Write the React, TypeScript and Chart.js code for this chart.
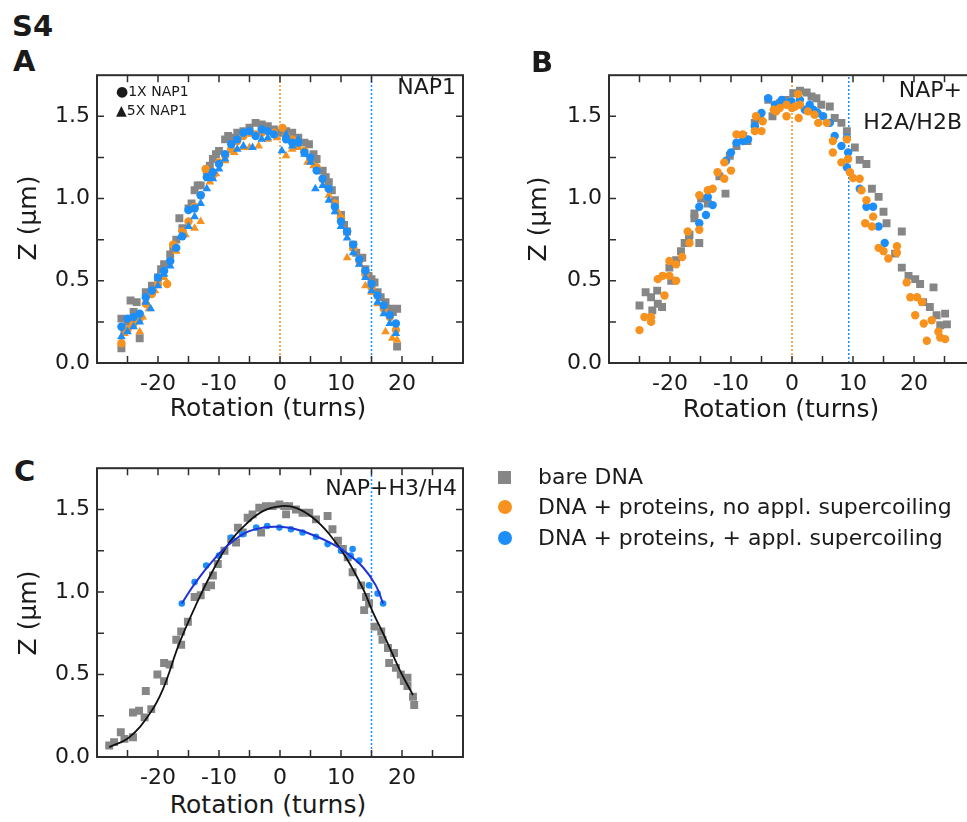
import React, { useEffect, useRef } from "react";
import { Chart, registerables } from "chart.js";

Chart.register(...registerables);

type P = [number, number];

const FONT = "'DejaVu Sans', sans-serif";
const TXT = "#1a1a1a";
const GREY = "#868686";
const ORANGE = "#F7921E";
const BLUE = "#1C8EF9";
const FIT_BLUE = "#1F33D6";
const FIT_BLACK = "#111111";

// ---------- axis ticks ----------
const X_MIN = -30;
const X_MAX = 30;
const X_STEP = 5;
const X_LABELS = [-20, -10, 0, 10, 20];
const Y_MIN = 0;
const Y_MAX = 1.75;
const Y_STEP = 0.25;
const Y_LABELS = [0, 0.5, 1.0, 1.5];

// ---------- Panel A : NAP1 ----------
const A_VLINES_ORANGE = [0];
const A_VLINES_BLUE = [15];
const A_bare: P[] = [
  [-26, 0.09], [-26, 0.27], [-25.5, 0.2], [-25, 0.25], [-24.5, 0.38], [-24, 0.31], [-23.5, 0.37], [-23, 0.15],
  [-22, 0.43], [-21, 0.47], [-20, 0.52], [-19.5, 0.57], [-19, 0.6], [-18, 0.66], [-17.5, 0.7], [-17, 0.75],
  [-16.5, 0.88], [-16, 0.82], [-15, 0.94], [-14.5, 0.97], [-14, 1.05], [-13.5, 1.08], [-13, 1.08], [-12, 1.17],
  [-11.5, 1.2], [-11, 1.24], [-10.5, 1.27], [-10, 1.29], [-9, 1.36], [-8.5, 1.38], [-8, 1.37], [-7, 1.4],
  [-6, 1.41], [-5, 1.43], [-4, 1.46], [-3, 1.45], [-2, 1.44], [-1, 1.42], [0, 1.4], [1, 1.41], [1.5, 1.38],
  [2, 1.4], [3, 1.37], [4, 1.34], [4.75, 1.33], [5.5, 1.27], [6, 1.24], [7, 1.17], [7.5, 1.13], [8, 1.1],
  [8.5, 1.05], [9, 0.99], [10, 0.9], [10.5, 0.84], [11, 0.8], [12, 0.72], [12.5, 0.67], [13.5, 0.64],
  [14, 0.57], [14.5, 0.53], [15, 0.51], [15.5, 0.49], [16, 0.43], [16.5, 0.4], [17.3, 0.37], [18, 0.33],
  [18.5, 0.31], [19.2, 0.33], [19.2, 0.1],
];
const A_orange1x: P[] = [
  [-26, 0.12], [-25, 0.2], [-24, 0.24], [-23, 0.27], [-22, 0.36], [-21, 0.42], [-20, 0.48], [-18.5, 0.48],
  [-18, 0.62], [-17.5, 0.72], [-16, 0.8], [-15, 0.86], [-14, 0.95], [-13, 1.02], [-12.2, 1.18], [-11, 1.14],
  [-10, 1.22], [-9, 1.26], [-8, 1.3], [-7, 1.35], [-6, 1.38], [-5, 1.4], [-4, 1.39], [-3, 1.4], [-2, 1.41],
  [-1, 1.4], [0.4, 1.43], [1, 1.38], [2, 1.36], [3, 1.33], [4, 1.29], [5, 1.25], [6, 1.19], [7, 1.12],
  [8, 1.06], [9, 0.97], [10, 0.88], [11, 0.8], [12, 0.7], [13, 0.62], [14, 0.54], [15, 0.46], [16, 0.41],
  [17, 0.33], [18, 0.28], [19, 0.2],
];
const A_orange5x: P[] = [
  [-25.5, 0.18], [-24.5, 0.22], [-23, 0.19], [-22.5, 0.28], [-21.5, 0.33], [-20.5, 0.44], [-19, 0.52],
  [-17, 0.68], [-15.5, 0.78], [-14, 0.82], [-13, 0.86], [-11.5, 1.1], [-10.5, 1.15], [-9, 1.23], [-7.5, 1.28],
  [-6, 1.31], [-5, 1.31], [-3.5, 1.32], [-2, 1.36], [-0.5, 1.37], [1, 1.26], [2, 1.3], [3, 1.31], [4.5, 1.22],
  [5.5, 1.2], [7, 1.12], [8, 1.02], [9.5, 0.92], [11, 0.64], [12, 0.7], [13, 0.6], [14, 0.47], [15, 0.43],
  [16, 0.36], [17.3, 0.19], [18.4, 0.15], [19.2, 0.14],
];
const A_blue1x: P[] = [
  [-26, 0.22], [-25, 0.27], [-24, 0.28], [-23, 0.3], [-22, 0.4], [-21, 0.44], [-20, 0.52], [-19, 0.56],
  [-18, 0.62], [-17, 0.7], [-16, 0.77], [-15, 0.93], [-14, 0.94], [-13, 1.02], [-12, 1.13], [-11, 1.16],
  [-10, 1.21], [-9, 1.27], [-8, 1.33], [-7, 1.36], [-6, 1.4], [-5, 1.41], [-4, 1.38], [-3, 1.42], [-2, 1.41],
  [-1, 1.39], [1, 1.36], [2, 1.34], [3, 1.34], [4, 1.28], [5, 1.25], [6, 1.17], [7, 1.12], [8, 1.06],
  [9, 0.95], [10, 0.86], [11, 0.8], [12, 0.72], [13, 0.63], [14, 0.56], [15, 0.48], [16, 0.41], [17, 0.35],
  [18, 0.29], [19, 0.24],
];
const A_blue5x: P[] = [
  [-26, 0.16], [-25, 0.19], [-24, 0.22], [-23, 0.25], [-22, 0.37], [-21.2, 0.33], [-20, 0.47], [-19, 0.54],
  [-18, 0.59], [-16.3, 0.77], [-15, 0.83], [-14, 0.89], [-13, 0.97], [-12, 1.06], [-11, 1.12], [-10, 1.18],
  [-9, 1.24], [-7, 1.3], [-6, 1.32], [-4.5, 1.31], [-3, 1.36], [-2, 1.37], [0.3, 1.29], [1, 1.39], [2, 1.32],
  [3, 1.36], [4, 1.27], [5, 1.22], [5.8, 1.06], [7, 1.08], [8, 0.99], [9, 0.92], [10, 0.83], [11, 0.76],
  [12, 0.67], [13, 0.6], [14, 0.52], [15, 0.44], [16, 0.37], [17, 0.3], [18, 0.24], [19, 0.18],
];

// ---------- Panel B : NAP + H2A/H2B ----------
const B_VLINES_ORANGE = [0];
const B_VLINES_BLUE = [9.3];
const B_bare: P[] = [
  [-25, 0.35], [-24, 0.43], [-23.1, 0.4], [-22.9, 0.32], [-22.1, 0.44], [-22, 0.36], [-21.3, 0.34],
  [-20.1, 0.58], [-19.8, 0.5], [-19, 0.625], [-18.2, 0.68], [-17.6, 0.73], [-16.9, 0.77], [-16.8, 0.78],
  [-16, 0.88], [-16, 0.91], [-15.2, 0.73], [-14.9, 1.0], [-13.8, 0.97], [-11.9, 1.135], [-10.9, 1.03],
  [-10.2, 1.26], [-9.1, 1.32], [-8, 1.38], [-7.3, 1.35], [-6.1, 1.46], [-5.3, 1.49], [-3.9, 1.6],
  [-3.2, 1.5], [-2, 1.58], [-1, 1.6], [0.2, 1.64], [1.3, 1.655], [2.4, 1.645], [3.2, 1.62], [4, 1.61],
  [4.8, 1.57], [6.2, 1.56], [7, 1.49], [8.1, 1.46], [9, 1.41], [10.3, 1.31], [11.1, 1.235], [12.2, 1.21],
  [13.1, 1.06], [14.2, 1.01], [15, 0.92], [15.5, 0.85], [16.9, 0.665], [18, 0.8], [18, 0.58], [19.1, 0.53],
  [20.2, 0.51], [21, 0.48], [21.5, 0.37], [22.6, 0.34], [23.2, 0.46], [23.7, 0.29], [24.3, 0.23],
  [25.1, 0.3], [25.4, 0.235],
];
const B_orange: P[] = [
  [-25, 0.2], [-24.2, 0.28], [-23.1, 0.25], [-23.1, 0.28], [-22, 0.51], [-21.2, 0.53], [-20.9, 0.41],
  [-20.1, 0.53], [-20.1, 0.62], [-19, 0.5], [-19, 0.6], [-18, 0.645], [-17.1, 0.8], [-16.8, 0.73],
  [-15.2, 0.81], [-15.2, 1.02], [-13.8, 1.05], [-13, 1.06], [-12.2, 1.16], [-11.1, 1.12], [-11.1, 1.22],
  [-10, 1.17], [-9.1, 1.39], [-8.1, 1.39], [-6.1, 1.41], [-5.9, 1.5], [-5, 1.41], [-4.8, 1.47], [-3, 1.54],
  [-2.6, 1.53], [-2, 1.55], [-0.9, 1.57], [-0.9, 1.5], [0, 1.55], [0.5, 1.56], [1, 1.635], [1.1, 1.49],
  [1.3, 1.57], [2.6, 1.53], [3.7, 1.51], [4.3, 1.46], [5.7, 1.46], [6.7, 1.35], [6.7, 1.28], [8.1, 1.22],
  [9, 1.36], [9.2, 1.24], [9.5, 1.16], [10, 1.125], [11.1, 1.12], [11.4, 1.05], [12.2, 0.99], [12, 0.85],
  [13.1, 0.83], [13.3, 0.89], [14.2, 0.7], [15, 0.68], [15.8, 0.635], [17.2, 0.71], [17.2, 0.67],
  [18.8, 0.49], [19.4, 0.4], [20.5, 0.4], [21.3, 0.37], [20.2, 0.29], [21.6, 0.24], [22.9, 0.26],
  [22.1, 0.135], [24, 0.19], [24.3, 0.155], [25.1, 0.145],
];
const B_blue: P[] = [
  [-15.2, 0.95], [-15.2, 0.85], [-14.1, 0.9], [-13.8, 1.01], [-13, 0.96], [-10.8, 1.23], [-10, 1.28],
  [-9.1, 1.34], [-8, 1.35], [-7.2, 1.36], [-6.1, 1.44], [-5, 1.52], [-3.9, 1.61], [-2.8, 1.57],
  [-1.7, 1.6], [-0.9, 1.58], [-0.1, 1.59], [1.3, 1.6], [2.1, 1.54], [2.9, 1.57], [3.5, 1.54], [4.2, 1.52],
  [5.1, 1.5], [6.2, 1.46], [7, 1.38], [8.1, 1.32], [9, 1.37], [9, 1.19], [9.2, 1.28], [11.1, 1.06],
  [12.2, 0.95], [13.3, 0.95], [14.2, 0.83], [15.2, 0.73],
];

// ---------- Panel C : NAP + H3/H4 ----------
const C_VLINES_BLUE = [15];
const C_bare: P[] = [
  [-28, 0.07], [-27.2, 0.09], [-26.1, 0.15], [-25.5, 0.11], [-24.1, 0.12], [-24.1, 0.27], [-23.1, 0.28],
  [-22.2, 0.24], [-22, 0.4], [-21.1, 0.29], [-20.1, 0.5], [-19, 0.46], [-19, 0.57], [-18.1, 0.56],
  [-17, 0.71], [-16.2, 0.68], [-16.2, 0.76], [-15.1, 0.82], [-14, 0.97], [-13, 0.98], [-12.1, 1.03],
  [-11.3, 1.04], [-11, 1.1], [-10.2, 1.17], [-9.1, 1.25], [-8, 1.32], [-7.2, 1.3], [-6.9, 1.39],
  [-6.1, 1.36], [-5.3, 1.45], [-4.5, 1.47], [-3.4, 1.51], [-3.1, 1.36], [-2.3, 1.52], [-1.2, 1.52],
  [-0.1, 1.53], [0.7, 1.52], [1, 1.47], [1.5, 1.52], [2.6, 1.5], [3.7, 1.48], [4.8, 1.48], [5.9, 1.44],
  [7.8, 1.46], [8.6, 1.38], [9.5, 1.31], [10.3, 1.26], [11.1, 1.21], [11.9, 1.12], [13.3, 1.04],
  [13.8, 0.89], [14.1, 0.97], [14.6, 0.93], [15.5, 0.79], [16.6, 0.76], [16.8, 0.71], [17.7, 0.66],
  [17.9, 0.57], [18.7, 0.63], [19, 0.54], [19.8, 0.5], [20.3, 0.46], [20.9, 0.48], [20.9, 0.43],
  [21.8, 0.365], [22, 0.315],
];
const C_blue: P[] = [
  [-16.1, 0.93], [-14, 1.06], [-12.1, 1.16], [-10, 1.22], [-8, 1.33], [-6.1, 1.35], [-3.9, 1.39],
  [-2.1, 1.4], [-0.1, 1.39], [1.8, 1.38], [3.7, 1.36], [5.9, 1.335], [7.8, 1.29], [10, 1.25], [11.6, 1.22],
  [11.9, 1.26], [13, 1.19], [14.6, 1.04], [16, 0.99], [16.9, 0.93],
];
const C_fitBare: P[] = [
  [-28, 0.06], [-24.7, 0.12], [-21.4, 0.26], [-19.2, 0.41], [-16.5, 0.69], [-13.8, 0.92], [-11, 1.13],
  [-8.3, 1.3], [-5.6, 1.41], [-2.8, 1.49], [0.2, 1.52], [2.6, 1.51], [5.4, 1.45], [8.1, 1.35],
  [10.8, 1.21], [13.6, 1.02], [15.2, 0.88], [17.4, 0.71], [19.6, 0.53], [21.8, 0.375],
];
const C_fitBlue: P[] = [
  [-16.1, 0.93], [-13.8, 1.06], [-11, 1.19], [-8.3, 1.29], [-5.6, 1.36], [-2.8, 1.39], [-0.1, 1.395],
  [2.6, 1.38], [5.4, 1.345], [8.1, 1.3], [10.8, 1.24], [13.6, 1.15], [15.7, 1.04], [16.9, 0.93],
];

// ---------- helpers ----------
const xy = (arr: P[]) => arr.map(([x, y]) => ({ x, y }));

const pts = (label: string, data: P[], color: string, style: string, radius: number, order: number) => ({
  label,
  data: xy(data),
  pointStyle: style,
  pointRadius: radius,
  pointHoverRadius: radius,
  pointBackgroundColor: color,
  pointBorderColor: color,
  pointBorderWidth: 0,
  showLine: false,
  order,
});

const vline = (x: number, color: string) => ({
  label: "ref",
  data: [{ x, y: Y_MIN }, { x, y: Y_MAX }],
  showLine: true,
  borderColor: color,
  borderWidth: 1.5,
  borderDash: [2, 2],
  pointRadius: 0,
  order: 100,
});

const fitLine = (data: P[], color: string, width: number, order: number) => ({
  label: "fit",
  data: xy(data),
  showLine: true,
  borderColor: color,
  borderWidth: width,
  tension: 0.4,
  pointRadius: 0,
  order,
});

const framePlugin = {
  id: "frameTicks",
  afterDraw(chart: any) {
    const { ctx, chartArea: a, scales } = chart;
    const xs = scales.x;
    const ys = scales.y;
    ctx.save();
    ctx.strokeStyle = "#2e2e2e";
    ctx.lineWidth = 1.5;
    ctx.beginPath();
    xs.ticks.forEach((t: any) => {
      if (t.value <= X_MIN || t.value >= X_MAX) return;
      const px = xs.getPixelForValue(t.value);
      ctx.moveTo(px, a.bottom);
      ctx.lineTo(px, a.bottom - 7);
      ctx.moveTo(px, a.top);
      ctx.lineTo(px, a.top + 7);
    });
    ys.ticks.forEach((t: any) => {
      if (t.value <= Y_MIN + 1e-6 || t.value >= Y_MAX - 1e-6) return;
      const py = ys.getPixelForValue(t.value);
      ctx.moveTo(a.left, py);
      ctx.lineTo(a.left + 7, py);
      ctx.moveTo(a.right, py);
      ctx.lineTo(a.right - 7, py);
    });
    ctx.stroke();
    ctx.lineWidth = 2;
    ctx.strokeRect(a.left, a.top, a.right - a.left, a.bottom - a.top);
    ctx.restore();
  },
};

type Area = { l: number; t: number; r: number; b: number };

function Panel(props: { left: number; top: number; width: number; height: number; area: Area; datasets: any[] }) {
  const ref = useRef<HTMLCanvasElement>(null);
  const { left, top, width, height, area, datasets } = props;
  useEffect(() => {
    const chart = new Chart(ref.current as HTMLCanvasElement, {
      type: "scatter",
      data: { datasets },
      options: {
        animation: false,
        responsive: false,
        maintainAspectRatio: false,
        devicePixelRatio: 1,
        layout: { padding: { left: 0, top: area.t, right: width - area.r, bottom: 0 } },
        plugins: { legend: { display: false }, tooltip: { enabled: false } },
        scales: {
          x: {
            type: "linear",
            min: X_MIN,
            max: X_MAX,
            afterFit: (s: any) => {
              s.height = height - area.b;
            },
            grid: { display: false, drawTicks: false },
            border: { display: false },
            ticks: {
              stepSize: X_STEP,
              autoSkip: false,
              maxRotation: 0,
              padding: 8,
              color: TXT,
              font: { family: FONT, size: 22 },
              callback: (v: any) => (X_LABELS.includes(Number(v)) ? String(v) : ""),
            },
          },
          y: {
            type: "linear",
            min: Y_MIN,
            max: Y_MAX,
            afterFit: (s: any) => {
              s.width = area.l;
            },
            grid: { display: false, drawTicks: false },
            border: { display: false },
            ticks: {
              stepSize: Y_STEP,
              autoSkip: false,
              padding: 7,
              color: TXT,
              font: { family: FONT, size: 22 },
              callback: (v: any) =>
                Y_LABELS.some((l) => Math.abs(l - Number(v)) < 1e-6) ? Number(v).toFixed(1) : "",
            },
          },
        },
      } as any,
      plugins: [framePlugin],
    });
    return () => chart.destroy();
  }, []);
  return (
    <canvas
      ref={ref}
      width={width}
      height={height}
      style={{ position: "absolute", left, top, width, height }}
    />
  );
}

function T(props: {
  x: number;
  y: number;
  size: number;
  children: React.ReactNode;
  bold?: boolean;
  rot?: boolean;
  anchor?: "start" | "middle" | "end";
}) {
  const { x, y, size, children, bold, rot, anchor = "middle" } = props;
  const tx = anchor === "start" ? "0" : anchor === "end" ? "-100%" : "-50%";
  return (
    <div
      style={{
        position: "absolute",
        left: x,
        top: y,
        transform: `translate(${tx}, -50%)${rot ? " rotate(-90deg)" : ""}`,
        transformOrigin: rot ? "50% 50%" : undefined,
        fontSize: size,
        fontWeight: bold ? 700 : 400,
        lineHeight: 1,
        whiteSpace: "nowrap",
        color: TXT,
        fontFamily: FONT,
      }}
    >
      {children}
    </div>
  );
}

const PANEL_W = 440;
const PANEL_H = 340;

export default function App() {
  const dsA = [
    pts("1X NAP1 + supercoiling", A_blue1x, BLUE, "circle", 4.2, 1),
    pts("5X NAP1 + supercoiling", A_blue5x, BLUE, "triangle", 5, 2),
    pts("1X NAP1", A_orange1x, ORANGE, "circle", 4.2, 3),
    pts("5X NAP1", A_orange5x, ORANGE, "triangle", 5, 4),
    pts("bare DNA", A_bare, GREY, "rect", 5.6, 5),
    ...A_VLINES_ORANGE.map((v) => vline(v, ORANGE)),
    ...A_VLINES_BLUE.map((v) => vline(v, BLUE)),
  ];
  const dsB = [
    pts("no appl. supercoiling", B_orange, ORANGE, "circle", 4.2, 1),
    pts("+ appl. supercoiling", B_blue, BLUE, "circle", 4.2, 2),
    pts("bare DNA", B_bare, GREY, "rect", 5.6, 3),
    ...B_VLINES_ORANGE.map((v) => vline(v, ORANGE)),
    ...B_VLINES_BLUE.map((v) => vline(v, BLUE)),
  ];
  const dsC = [
    fitLine(C_fitBlue, FIT_BLUE, 2, 0),
    fitLine(C_fitBare, FIT_BLACK, 1.8, 1),
    pts("+ appl. supercoiling", C_blue, BLUE, "circle", 3.3, 2),
    pts("bare DNA", C_bare, GREY, "rect", 5.6, 3),
    ...C_VLINES_BLUE.map((v) => vline(v, BLUE)),
  ];

  return (
    <div
      style={{
        position: "fixed",
        left: 0,
        top: 0,
        width: 967,
        height: 822,
        overflow: "hidden",
        background: "#fff",
        fontFamily: FONT,
      }}
    >
      <Panel left={40} top={55} width={PANEL_W} height={PANEL_H} area={{ l: 57, t: 10, r: 423, b: 308 }} datasets={dsA} />
      <Panel left={552} top={55} width={PANEL_W} height={PANEL_H} area={{ l: 57, t: 10, r: 423, b: 308 }} datasets={dsB} />
      <Panel left={40} top={448} width={PANEL_W} height={PANEL_H} area={{ l: 57, t: 10, r: 423, b: 309 }} datasets={dsC} />

      <T x={12} y={26} size={29} bold anchor="start">S4</T>
      <T x={13} y={61} size={29} bold anchor="start">A</T>
      <T x={531} y={62} size={29} bold anchor="start">B</T>
      <T x={14} y={471} size={29} bold anchor="start">C</T>

      <T x={27} y={218} size={25} rot>Z (µm)</T>
      <T x={268} y={407} size={25}>Rotation (turns)</T>
      <T x={537} y={219} size={25} rot>Z (µm)</T>
      <T x={781} y={408} size={25}>Rotation (turns)</T>
      <T x={27} y={613} size={25} rot>Z (µm)</T>
      <T x={268} y={804} size={25}>Rotation (turns)</T>

      <T x={456} y={87} size={22} anchor="end">NAP1</T>
      <T x={962} y={90} size={22} anchor="end">NAP+</T>
      <T x={962} y={122} size={22} anchor="end">H2A/H2B</T>
      <T x={457} y={488} size={22} anchor="end">NAP+H3/H4</T>

      <T x={116} y={91} size={14} anchor="start">●1X NAP1</T>
      <T x={116} y={110} size={14} anchor="start">▲5X NAP1</T>

      <div style={{ position: "absolute", left: 498, top: 471, width: 13, height: 13, background: GREY }} />
      <div style={{ position: "absolute", left: 498, top: 500, width: 14, height: 14, borderRadius: 7, background: ORANGE }} />
      <div style={{ position: "absolute", left: 498, top: 531, width: 14, height: 14, borderRadius: 7, background: BLUE }} />
      <T x={538} y={477} size={22} anchor="start">bare DNA</T>
      <T x={538} y={507} size={22} anchor="start">DNA + proteins, no appl. supercoiling</T>
      <T x={538} y={538} size={22} anchor="start">DNA + proteins, + appl. supercoiling</T>
    </div>
  );
}
